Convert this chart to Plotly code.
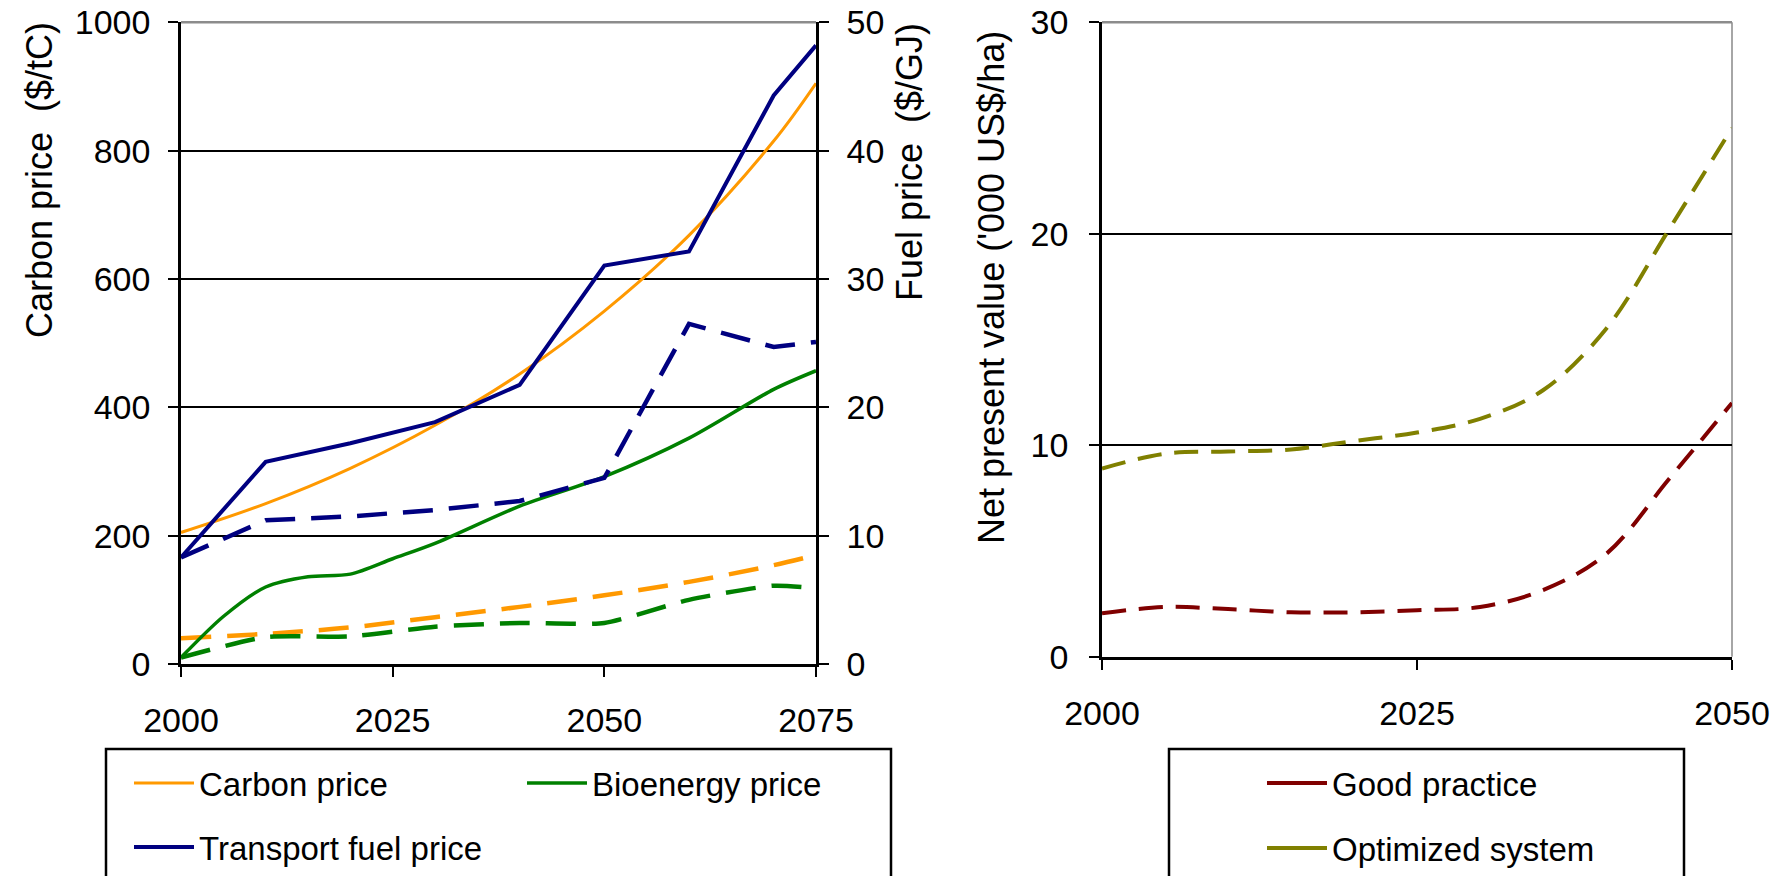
import plotly.graph_objects as go

# ---------------- data ----------------
years_left = [2000, 2010, 2020, 2030, 2040, 2050, 2060, 2070, 2075]
carbon_price = [205, 250, 305, 372, 452, 550, 668, 815, 905]          # $/tC
carbon_price_alt = [40, 47, 57, 73, 89, 107, 128, 154, 170]           # $/tC
years_bio = [2000, 2005, 2010, 2015, 2020, 2025, 2030, 2040, 2050, 2060, 2070, 2075]
bioenergy_price = [0.5, 3.7, 6.0, 6.8, 7.0, 8.2, 9.4, 12.3, 14.6, 17.6, 21.4, 22.85]  # $/GJ
bioenergy_price_alt = [0.5, 2.1, 2.15, 2.9, 3.2, 3.2, 5.0, 6.1, 5.9]  # $/GJ
transport_fuel_price = [8.3, 15.75, 17.2, 18.85, 21.75, 31.05, 32.15, 44.3, 48.2]  # $/GJ
transport_fuel_price_alt = [8.3, 11.2, 11.5, 12.0, 12.7, 14.5, 26.5, 24.7, 25.1]   # $/GJ

years_right = [2000, 2005, 2010, 2015, 2020, 2025, 2030, 2035, 2040, 2045, 2050]
good_practice = [2.05, 2.35, 2.25, 2.1, 2.1, 2.2, 2.35, 3.15, 4.85, 8.4, 12.0]
optimized_system = [8.9, 9.6, 9.7, 9.8, 10.2, 10.6, 11.25, 12.6, 15.5, 20.2, 25.0]

left_xticks = [2000, 2025, 2050, 2075]
right_xticks = [2000, 2025, 2050]

# ---------------- style ----------------
W, H = 1787, 876
FONT = "Liberation Sans, Arial, sans-serif"
ORANGE = "#FF9900"
GREEN = "#008000"
NAVY = "#000080"
DARKRED = "#800000"
OLIVE = "#808000"
DASH_L = "30px,16px"
DASH_R = "24px,13px"


def px_x(p):
    return p / W


def px_y(p):
    return 1 - p / H


fig = go.Figure()

# left panel
fig.add_trace(go.Scatter(x=years_left, y=carbon_price, name="Carbon price", mode="lines",
                         line=dict(color=ORANGE, width=3, shape="spline"),
                         xaxis="x", yaxis="y", legend="legend"))
fig.add_trace(go.Scatter(x=years_left, y=carbon_price_alt, showlegend=False, mode="lines",
                         line=dict(color=ORANGE, width=4.5, dash=DASH_L, shape="spline"),
                         xaxis="x", yaxis="y"))
fig.add_trace(go.Scatter(x=years_bio, y=bioenergy_price, name="Bioenergy price", mode="lines",
                         line=dict(color=GREEN, width=3.5, shape="spline", smoothing=0.8),
                         xaxis="x", yaxis="y2", legend="legend2"))
fig.add_trace(go.Scatter(x=years_left, y=bioenergy_price_alt, showlegend=False, mode="lines",
                         line=dict(color=GREEN, width=4.5, dash=DASH_L, shape="spline", smoothing=0.6),
                         xaxis="x", yaxis="y2"))
fig.add_trace(go.Scatter(x=years_left, y=transport_fuel_price, name="Transport fuel price", mode="lines",
                         line=dict(color=NAVY, width=4),
                         xaxis="x", yaxis="y2", legend="legend3"))
fig.add_trace(go.Scatter(x=years_left, y=transport_fuel_price_alt, showlegend=False, mode="lines",
                         line=dict(color=NAVY, width=4.5, dash=DASH_L),
                         xaxis="x", yaxis="y2"))

# right panel
fig.add_trace(go.Scatter(x=years_right, y=good_practice, showlegend=False, mode="lines",
                         line=dict(color=DARKRED, width=4, dash=DASH_R, shape="spline"),
                         xaxis="x2", yaxis="y3"))
fig.add_trace(go.Scatter(x=years_right, y=optimized_system, showlegend=False, mode="lines",
                         line=dict(color=OLIVE, width=4, dash=DASH_R, shape="spline"),
                         xaxis="x2", yaxis="y3"))
# legend entries (solid swatches as in the original)
fig.add_trace(go.Scatter(x=[None], y=[None], name="Good practice", mode="lines",
                         line=dict(color=DARKRED, width=4), xaxis="x2", yaxis="y3", legend="legend4"))
fig.add_trace(go.Scatter(x=[None], y=[None], name="Optimized system", mode="lines",
                         line=dict(color=OLIVE, width=4), xaxis="x2", yaxis="y3", legend="legend5"))

tickfont = dict(family=FONT, size=34, color="black")
common_x = dict(ticks="outside", ticklen=10, tickwidth=2, tickcolor="black",
                showline=True, linecolor="black", linewidth=3, showgrid=False,
                zeroline=False, tickfont=tickfont, ticklabelstandoff=14, fixedrange=True,
                automargin=False, ticklabeloverflow="allow")
common_y = dict(ticks="outside", ticklen=10, tickwidth=2, tickcolor="black",
                showline=True, linecolor="black", linewidth=2.5, zeroline=False,
                tickfont=tickfont, fixedrange=True, automargin=False,
                ticklabeloverflow="allow")

LEFT_X = [px_x(181), px_x(816)]
RIGHT_X = [px_x(1102), px_x(1732)]
LEFT_Y = [px_y(664), px_y(22.3)]
RIGHT_Y = [px_y(656.7), px_y(22.3)]

legend_common = dict(xref="paper", yref="paper", xanchor="left", yanchor="middle",
                     bgcolor="rgba(0,0,0,0)", borderwidth=0, itemwidth=60,
                     font=dict(family=FONT, size=33, color="black"))

fig.update_layout(
    template="none",
    width=W, height=H, autosize=False,
    margin=dict(l=0, r=0, t=0, b=0, autoexpand=False),
    paper_bgcolor="white", plot_bgcolor="white",
    font=dict(family=FONT, color="black"),
    xaxis=dict(domain=LEFT_X, range=[2000, 2075], tickvals=left_xticks, anchor="y", **common_x),
    yaxis=dict(domain=LEFT_Y, range=[0, 1000], dtick=200, anchor="x",
               showgrid=True, gridcolor="black", gridwidth=2, ticklabelstandoff=11, **common_y),
    yaxis2=dict(overlaying="y", side="right", range=[0, 50], dtick=10, anchor="x",
                showgrid=False, ticklabelstandoff=11, **common_y),
    xaxis2=dict(domain=RIGHT_X, range=[2000, 2050], tickvals=right_xticks, anchor="y3", **common_x),
    yaxis3=dict(domain=RIGHT_Y, range=[0, 30], dtick=10, anchor="x2",
                showgrid=True, gridcolor="black", gridwidth=2, ticklabelstandoff=14, **common_y),
    legend=dict(x=px_x(129), y=px_y(783), **legend_common),
    legend2=dict(x=px_x(522), y=px_y(783), **legend_common),
    legend3=dict(x=px_x(129), y=px_y(847), **legend_common),
    legend4=dict(x=px_x(1262), y=px_y(783), **legend_common),
    legend5=dict(x=px_x(1262), y=px_y(848), **legend_common),
    showlegend=True,
)

title_font = dict(family=FONT, size=36, color="black")
fig.add_annotation(text="Carbon price  ($/tC)", textangle=-90, x=px_x(40), y=px_y(180),
                   xref="paper", yref="paper", showarrow=False, font=title_font,
                   xanchor="center", yanchor="middle")
fig.add_annotation(text="Fuel price  ($/GJ)", textangle=-90, x=px_x(910), y=px_y(162),
                   xref="paper", yref="paper", showarrow=False, font=title_font,
                   xanchor="center", yanchor="middle")
fig.add_annotation(text="Net present value ('000 US$/ha)", textangle=-90, x=px_x(992), y=px_y(287),
                   xref="paper", yref="paper", showarrow=False, font=title_font,
                   xanchor="center", yanchor="middle")

# grey top border lines of the plot areas and right border of right panel
fig.add_shape(type="line", xref="x domain", yref="y domain", x0=0, x1=1, y0=1, y1=1,
              line=dict(color="#8C8C8C", width=2.5), layer="above")
fig.add_shape(type="line", xref="x2 domain", yref="y3 domain", x0=0, x1=1, y0=1, y1=1,
              line=dict(color="#8C8C8C", width=2.5), layer="above")
fig.add_shape(type="line", xref="x2 domain", yref="y3 domain", x0=1, x1=1, y0=0, y1=1,
              line=dict(color="#A6A6A6", width=2), layer="below")

# legend frames
fig.add_shape(type="rect", xref="paper", yref="paper",
              x0=px_x(106), x1=px_x(891), y0=px_y(880), y1=px_y(749),
              line=dict(color="black", width=2.5), fillcolor="rgba(0,0,0,0)")
fig.add_shape(type="rect", xref="paper", yref="paper",
              x0=px_x(1169), x1=px_x(1684), y0=px_y(880), y1=px_y(749),
              line=dict(color="black", width=2.5), fillcolor="rgba(0,0,0,0)")

# remove the default 8px page margin so the figure fills the window exactly
fig.write_html("out.html", config={"displayModeBar": False},
               post_script="document.body.style.margin='0';")
